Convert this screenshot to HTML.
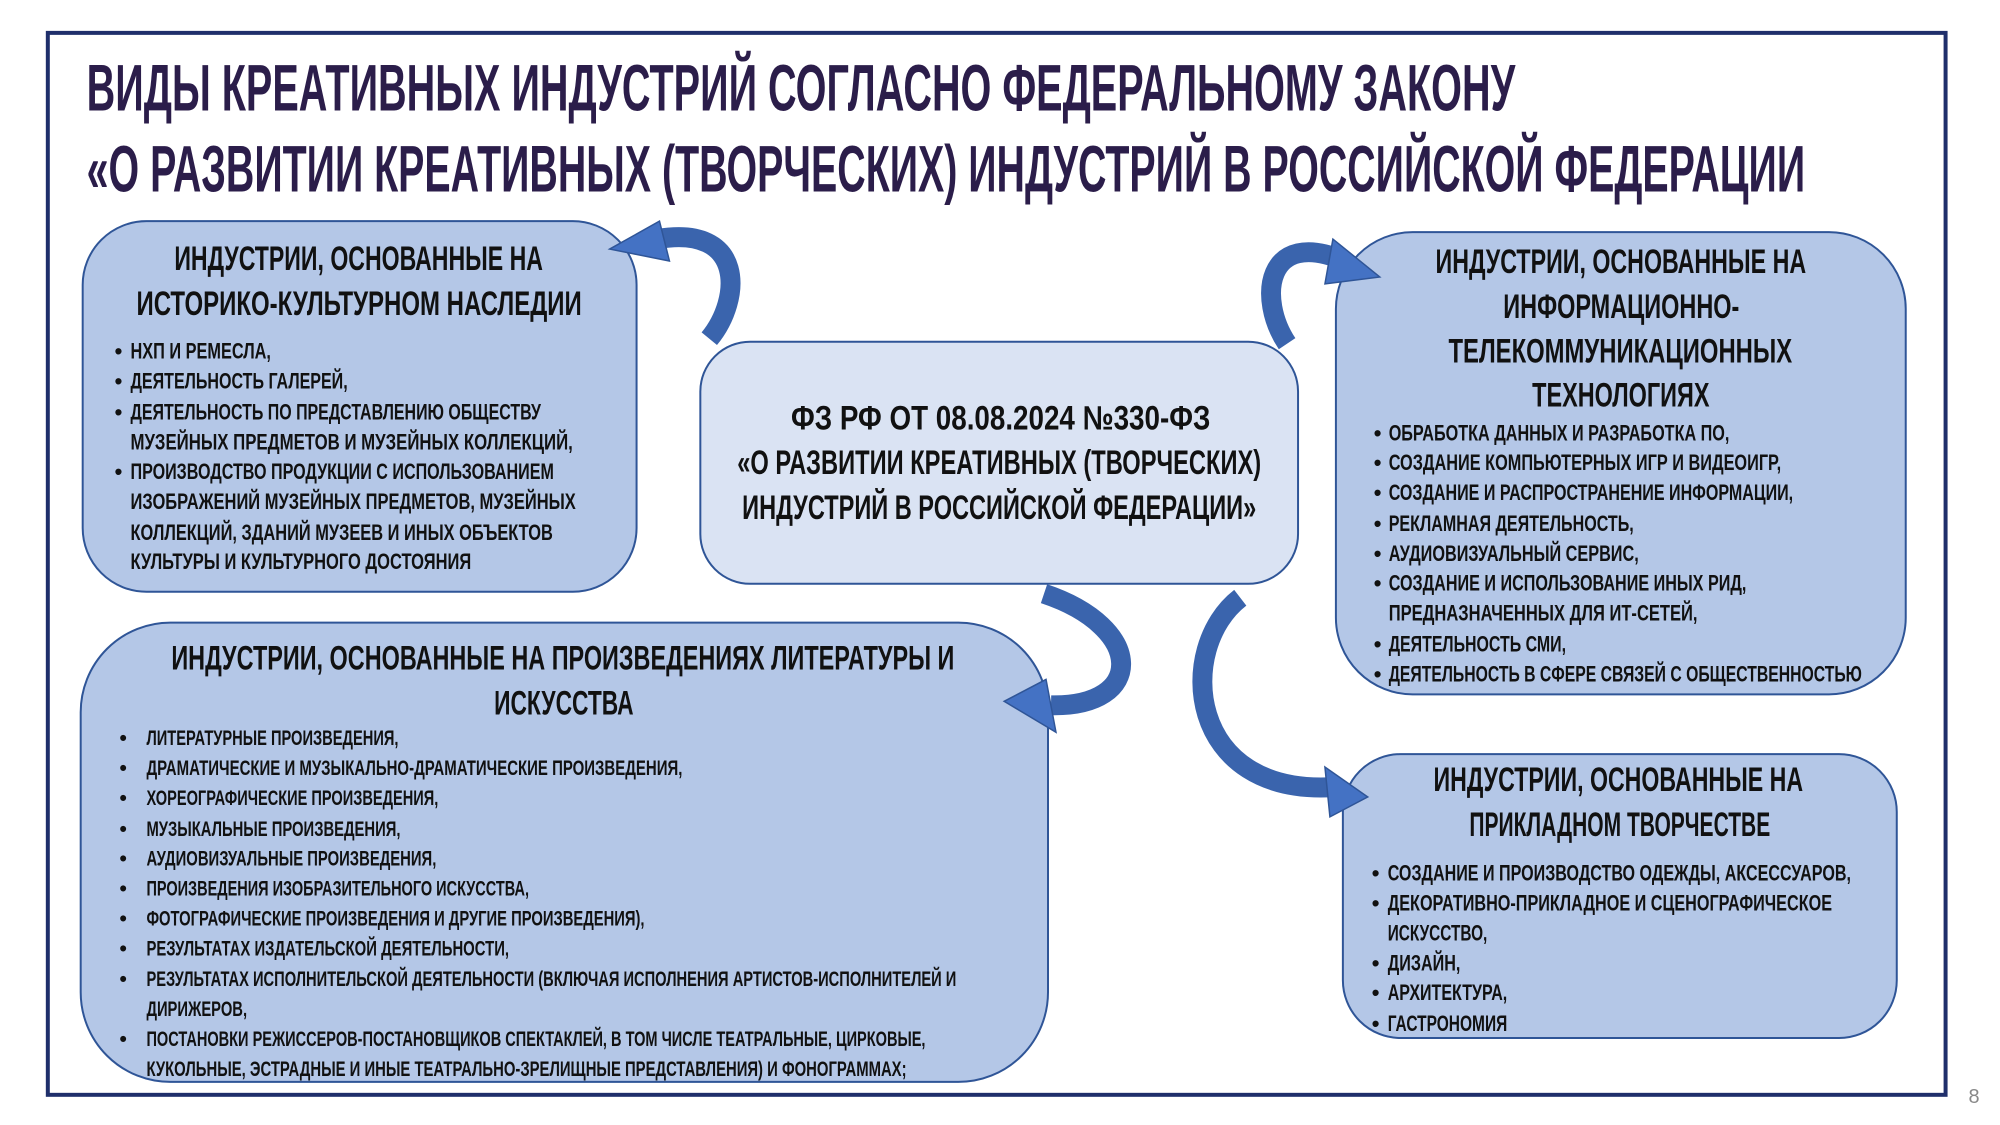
<!DOCTYPE html>
<html><head><meta charset="utf-8"><style>
html,body{margin:0;padding:0;background:#fff}
svg{display:block}
text{font-family:"Liberation Sans Narrow","Liberation Sans",sans-serif;font-weight:bold}
.t{fill:#2b1d4a;font-size:66px}
.h{fill:#111;font-size:34px}
.b{fill:#111;font-size:22px}
.c{fill:#111;font-size:21px}
</style></head><body>
<svg width="2000" height="1125" viewBox="0 0 2000 1125" xmlns="http://www.w3.org/2000/svg">
<g transform="scale(0.9962)">
<rect x="48" y="33" width="1905" height="1066" fill="#fff" stroke="#1f2f6b" stroke-width="4"/>
<text class="t" x="87" y="111" textLength="1434" lengthAdjust="spacingAndGlyphs">ВИДЫ КРЕАТИВНЫХ ИНДУСТРИЙ СОГЛАСНО ФЕДЕРАЛЬНОМУ ЗАКОНУ</text>
<text class="t" x="87" y="192" textLength="1725" lengthAdjust="spacingAndGlyphs">«О РАЗВИТИИ КРЕАТИВНЫХ (ТВОРЧЕСКИХ) ИНДУСТРИЙ В РОССИЙСКОЙ ФЕДЕРАЦИИ</text>

<rect x="83" y="222" width="556" height="372" rx="64" fill="#b4c7e7" stroke="#2f5597" stroke-width="2"/>
<rect x="703" y="343" width="600" height="243" rx="50" fill="#dae3f3" stroke="#2f5597" stroke-width="2"/>
<rect x="81" y="625" width="971" height="461" rx="90" fill="#b4c7e7" stroke="#2f5597" stroke-width="2"/>
<rect x="1341" y="233" width="572" height="464" rx="77" fill="#b4c7e7" stroke="#2f5597" stroke-width="2"/>
<rect x="1348" y="757" width="556" height="285" rx="58" fill="#b4c7e7" stroke="#2f5597" stroke-width="2"/>

<g fill="none" stroke="#3a64ad" stroke-width="20" stroke-linecap="butt">
<path d="M712 340 C 745 300, 748 225, 660 240"/>
<path d="M1292 345 C 1262 300, 1270 228, 1350 262"/>
<path d="M1048 596 C 1150 630, 1150 710, 1055 708"/>
<path d="M1245 600 C 1180 650, 1190 800, 1340 790"/>
</g>
<g fill="#4472c4" stroke="#2f5597" stroke-width="1.5">
<polygon points="612,250 662,222 672,262"/>
<polygon points="1385,278 1338,240 1330,285"/>
<polygon points="1008,704 1050,682 1060,735"/>
<polygon points="1373,800 1330,770 1335,820"/>
</g>

<text class="h" x="175" y="271" textLength="370" lengthAdjust="spacingAndGlyphs">ИНДУСТРИИ, ОСНОВАННЫЕ НА</text>
<text class="h" x="137" y="316" textLength="447" lengthAdjust="spacingAndGlyphs">ИСТОРИКО-КУЛЬТУРНОМ НАСЛЕДИИ</text>
<g class="b">
<text x="115" y="360">•</text><text x="131" y="360" textLength="141" lengthAdjust="spacingAndGlyphs">НХП И РЕМЕСЛА,</text>
<text x="115" y="390">•</text><text x="131" y="390" textLength="218" lengthAdjust="spacingAndGlyphs">ДЕЯТЕЛЬНОСТЬ ГАЛЕРЕЙ,</text>
<text x="115" y="421">•</text><text x="131" y="421" textLength="412" lengthAdjust="spacingAndGlyphs">ДЕЯТЕЛЬНОСТЬ ПО ПРЕДСТАВЛЕНИЮ ОБЩЕСТВУ</text>
<text x="131" y="451" textLength="444" lengthAdjust="spacingAndGlyphs">МУЗЕЙНЫХ ПРЕДМЕТОВ И МУЗЕЙНЫХ КОЛЛЕКЦИЙ,</text>
<text x="115" y="481">•</text><text x="131" y="481" textLength="425" lengthAdjust="spacingAndGlyphs">ПРОИЗВОДСТВО ПРОДУКЦИИ С ИСПОЛЬЗОВАНИЕМ</text>
<text x="131" y="511" textLength="447" lengthAdjust="spacingAndGlyphs">ИЗОБРАЖЕНИЙ МУЗЕЙНЫХ ПРЕДМЕТОВ, МУЗЕЙНЫХ</text>
<text x="131" y="542" textLength="424" lengthAdjust="spacingAndGlyphs">КОЛЛЕКЦИЙ, ЗДАНИЙ МУЗЕЕВ И ИНЫХ ОБЪЕКТОВ</text>
<text x="131" y="571" textLength="342" lengthAdjust="spacingAndGlyphs">КУЛЬТУРЫ И КУЛЬТУРНОГО ДОСТОЯНИЯ</text>
</g>

<text class="h" x="794" y="431" textLength="421" lengthAdjust="spacingAndGlyphs">ФЗ РФ  ОТ 08.08.2024 №330-ФЗ</text>
<text class="h" x="740" y="476" textLength="526" lengthAdjust="spacingAndGlyphs">«О РАЗВИТИИ КРЕАТИВНЫХ (ТВОРЧЕСКИХ)</text>
<text class="h" x="745" y="521" textLength="516" lengthAdjust="spacingAndGlyphs">ИНДУСТРИЙ В РОССИЙСКОЙ ФЕДЕРАЦИИ»</text>

<text class="h" x="172" y="672" textLength="786" lengthAdjust="spacingAndGlyphs">ИНДУСТРИИ, ОСНОВАННЫЕ НА ПРОИЗВЕДЕНИЯХ ЛИТЕРАТУРЫ И</text>
<text class="h" x="496" y="717" textLength="140" lengthAdjust="spacingAndGlyphs">ИСКУССТВА</text>
<g class="c">
<text x="120" y="748">•</text><text x="147" y="748" textLength="253" lengthAdjust="spacingAndGlyphs">ЛИТЕРАТУРНЫЕ ПРОИЗВЕДЕНИЯ,</text>
<text x="120" y="778">•</text><text x="147" y="778" textLength="538" lengthAdjust="spacingAndGlyphs">ДРАМАТИЧЕСКИЕ И МУЗЫКАЛЬНО-ДРАМАТИЧЕСКИЕ ПРОИЗВЕДЕНИЯ,</text>
<text x="120" y="808">•</text><text x="147" y="808" textLength="293" lengthAdjust="spacingAndGlyphs">ХОРЕОГРАФИЧЕСКИЕ ПРОИЗВЕДЕНИЯ,</text>
<text x="120" y="839">•</text><text x="147" y="839" textLength="255" lengthAdjust="spacingAndGlyphs">МУЗЫКАЛЬНЫЕ ПРОИЗВЕДЕНИЯ,</text>
<text x="120" y="869">•</text><text x="147" y="869" textLength="291" lengthAdjust="spacingAndGlyphs">АУДИОВИЗУАЛЬНЫЕ ПРОИЗВЕДЕНИЯ,</text>
<text x="120" y="899">•</text><text x="147" y="899" textLength="384" lengthAdjust="spacingAndGlyphs">ПРОИЗВЕДЕНИЯ ИЗОБРАЗИТЕЛЬНОГО ИСКУССТВА,</text>
<text x="120" y="929">•</text><text x="147" y="929" textLength="500" lengthAdjust="spacingAndGlyphs">ФОТОГРАФИЧЕСКИЕ ПРОИЗВЕДЕНИЯ И ДРУГИЕ ПРОИЗВЕДЕНИЯ),</text>
<text x="120" y="959">•</text><text x="147" y="959" textLength="364" lengthAdjust="spacingAndGlyphs">РЕЗУЛЬТАТАХ ИЗДАТЕЛЬСКОЙ ДЕЯТЕЛЬНОСТИ,</text>
<text x="120" y="990">•</text><text x="147" y="990" textLength="813" lengthAdjust="spacingAndGlyphs">РЕЗУЛЬТАТАХ ИСПОЛНИТЕЛЬСКОЙ ДЕЯТЕЛЬНОСТИ (ВКЛЮЧАЯ ИСПОЛНЕНИЯ АРТИСТОВ-ИСПОЛНИТЕЛЕЙ И</text>
<text x="147" y="1020" textLength="101" lengthAdjust="spacingAndGlyphs">ДИРИЖЕРОВ,</text>
<text x="120" y="1050">•</text><text x="147" y="1050" textLength="782" lengthAdjust="spacingAndGlyphs">ПОСТАНОВКИ РЕЖИССЕРОВ-ПОСТАНОВЩИКОВ СПЕКТАКЛЕЙ, В ТОМ ЧИСЛЕ ТЕАТРАЛЬНЫЕ, ЦИРКОВЫЕ,</text>
<text x="147" y="1080" textLength="763" lengthAdjust="spacingAndGlyphs">КУКОЛЬНЫЕ, ЭСТРАДНЫЕ И ИНЫЕ ТЕАТРАЛЬНО-ЗРЕЛИЩНЫЕ ПРЕДСТАВЛЕНИЯ) И ФОНОГРАММАХ;</text>
</g>

<text class="h" x="1441" y="274" textLength="372" lengthAdjust="spacingAndGlyphs">ИНДУСТРИИ, ОСНОВАННЫЕ НА</text>
<text class="h" x="1509" y="319" textLength="237" lengthAdjust="spacingAndGlyphs">ИНФОРМАЦИОННО-</text>
<text class="h" x="1454" y="364" textLength="345" lengthAdjust="spacingAndGlyphs">ТЕЛЕКОММУНИКАЦИОННЫХ</text>
<text class="h" x="1538" y="408" textLength="178" lengthAdjust="spacingAndGlyphs">ТЕХНОЛОГИЯХ</text>
<g class="b">
<text x="1379" y="442">•</text><text x="1394" y="442" textLength="342" lengthAdjust="spacingAndGlyphs">ОБРАБОТКА ДАННЫХ И РАЗРАБОТКА ПО,</text>
<text x="1379" y="472">•</text><text x="1394" y="472" textLength="394" lengthAdjust="spacingAndGlyphs">СОЗДАНИЕ КОМПЬЮТЕРНЫХ ИГР И ВИДЕОИГР,</text>
<text x="1379" y="502">•</text><text x="1394" y="502" textLength="406" lengthAdjust="spacingAndGlyphs">СОЗДАНИЕ И РАСПРОСТРАНЕНИЕ ИНФОРМАЦИИ,</text>
<text x="1379" y="533">•</text><text x="1394" y="533" textLength="246" lengthAdjust="spacingAndGlyphs">РЕКЛАМНАЯ ДЕЯТЕЛЬНОСТЬ,</text>
<text x="1379" y="563">•</text><text x="1394" y="563" textLength="251" lengthAdjust="spacingAndGlyphs">АУДИОВИЗУАЛЬНЫЙ СЕРВИС,</text>
<text x="1379" y="593">•</text><text x="1394" y="593" textLength="359" lengthAdjust="spacingAndGlyphs">СОЗДАНИЕ И ИСПОЛЬЗОВАНИЕ ИНЫХ РИД,</text>
<text x="1394" y="623" textLength="310" lengthAdjust="spacingAndGlyphs">ПРЕДНАЗНАЧЕННЫХ ДЛЯ ИТ-СЕТЕЙ,</text>
<text x="1379" y="654">•</text><text x="1394" y="654" textLength="178" lengthAdjust="spacingAndGlyphs">ДЕЯТЕЛЬНОСТЬ СМИ,</text>
<text x="1379" y="684">•</text><text x="1394" y="684" textLength="475" lengthAdjust="spacingAndGlyphs">ДЕЯТЕЛЬНОСТЬ В СФЕРЕ СВЯЗЕЙ С ОБЩЕСТВЕННОСТЬЮ</text>
</g>

<text class="h" x="1439" y="794" textLength="371" lengthAdjust="spacingAndGlyphs">ИНДУСТРИИ, ОСНОВАННЫЕ НА</text>
<text class="h" x="1475" y="839" textLength="302" lengthAdjust="spacingAndGlyphs">ПРИКЛАДНОМ ТВОРЧЕСТВЕ</text>
<g class="b">
<text x="1377" y="884">•</text><text x="1393" y="884" textLength="465" lengthAdjust="spacingAndGlyphs">СОЗДАНИЕ И ПРОИЗВОДСТВО ОДЕЖДЫ, АКСЕССУАРОВ,</text>
<text x="1377" y="914">•</text><text x="1393" y="914" textLength="446" lengthAdjust="spacingAndGlyphs">ДЕКОРАТИВНО-ПРИКЛАДНОЕ И СЦЕНОГРАФИЧЕСКОЕ</text>
<text x="1393" y="944" textLength="100" lengthAdjust="spacingAndGlyphs">ИСКУССТВО,</text>
<text x="1377" y="974">•</text><text x="1393" y="974" textLength="73" lengthAdjust="spacingAndGlyphs">ДИЗАЙН,</text>
<text x="1377" y="1004">•</text><text x="1393" y="1004" textLength="120" lengthAdjust="spacingAndGlyphs">АРХИТЕКТУРА,</text>
<text x="1377" y="1035">•</text><text x="1393" y="1035" textLength="120" lengthAdjust="spacingAndGlyphs">ГАСТРОНОМИЯ</text>
</g>

<text x="1976" y="1107" style="font-weight:normal;font-family:'Liberation Sans',sans-serif" font-size="20" fill="#888">8</text>
</g>
</svg>
</body></html>
